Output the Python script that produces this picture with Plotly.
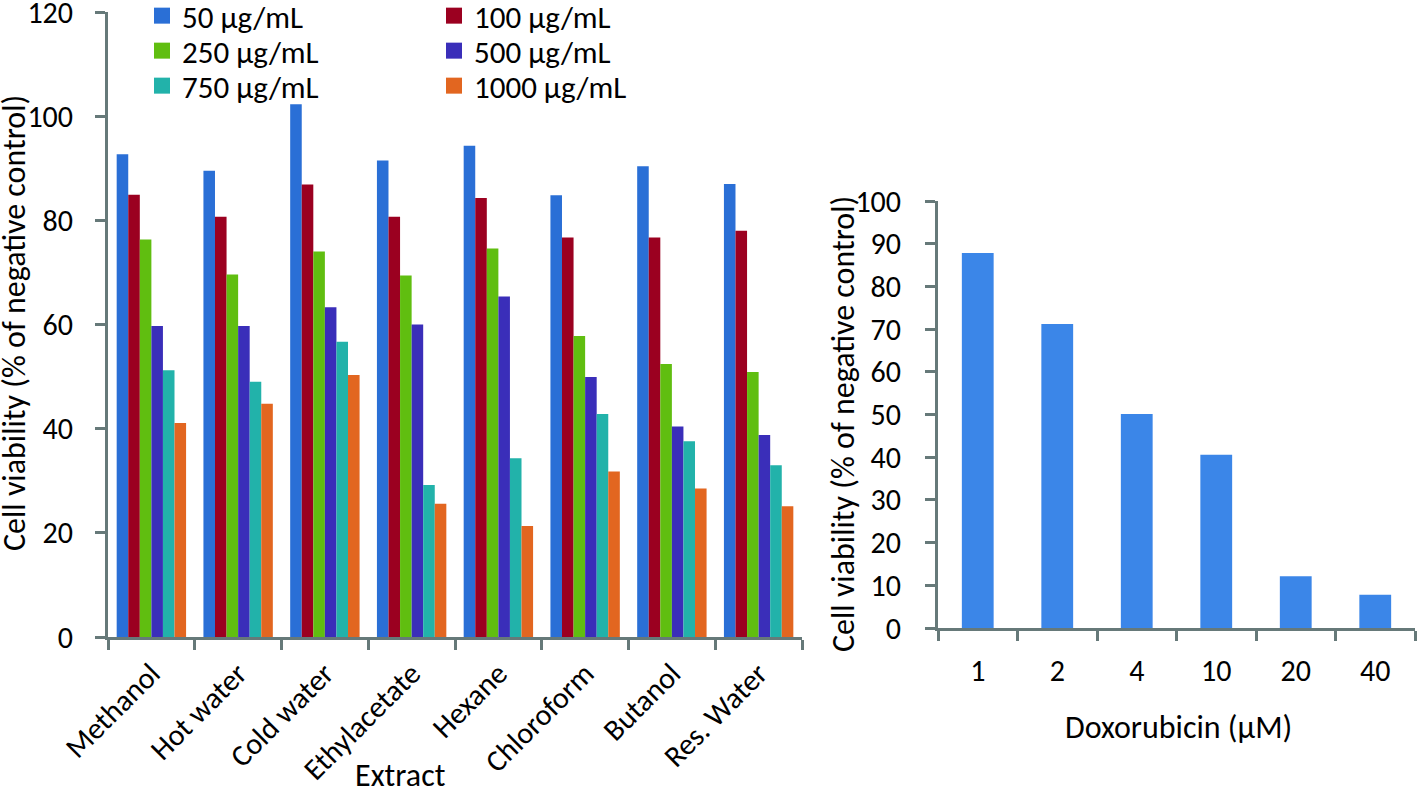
import plotly.graph_objects as go

W, H = 1419, 792

extracts = ["Methanol", "Hot water", "Cold water", "Ethylacetate", "Hexane", "Chloroform", "Butanol", "Res. Water"]
conc_labels = ["50 µg/mL", "100 µg/mL", "250 µg/mL", "500 µg/mL", "750 µg/mL", "1000 µg/mL"]
v50 = [92.7, 89.5, 102.3, 91.5, 94.3, 84.8, 90.4, 87.0]
v100 = [84.9, 80.7, 86.9, 80.7, 84.3, 76.7, 76.7, 78.0]
v250 = [76.3, 69.6, 74.0, 69.4, 74.6, 57.8, 52.4, 50.9]
v500 = [59.7, 59.7, 63.3, 60.0, 65.4, 49.9, 40.4, 38.8]
v750 = [51.2, 49.0, 56.7, 29.2, 34.3, 42.8, 37.6, 33.0]
v1000 = [41.1, 44.8, 50.3, 25.6, 21.3, 31.8, 28.5, 25.1]
series = [v50, v100, v250, v500, v750, v1000]
colors = ["#2a6fd6", "#9b0020", "#60be10", "#3a2eb9", "#22b2aa", "#e26620"]

dox_labels = ["1", "2", "4", "10", "20", "40"]
dox_values = [87.8, 71.2, 50.1, 40.6, 12.1, 7.8]

FONT = "Carlito, Lato, sans-serif"
FS = 31
FS_TITLE = 32
FS_TICK = 30
AXC = "#667979"


def fx(p):
    return p / W


def fy(p):
    return 1 - p / H


fig = go.Figure()
legend_ids = ["legend", "legend2", "legend3", "legend4", "legend5", "legend6"]
for name, vals, col, lg in zip(conc_labels, series, colors, legend_ids):
    fig.add_trace(go.Bar(x=extracts, y=vals, name=name, marker=dict(color=col, line=dict(width=0)),
                         xaxis="x", yaxis="y", legendgroup=name, showlegend=False))
    # legend entry with a larger square swatch, linked to the bars through legendgroup
    fig.add_trace(go.Scatter(x=[None], y=[None], mode="markers", name=name, legendgroup=name,
                             marker=dict(symbol="square", size=17, color=col),
                             xaxis="x", yaxis="y", legend=lg, showlegend=True, hoverinfo="skip"))

fig.add_trace(go.Bar(x=dox_labels, y=dox_values, width=0.4, marker=dict(color="#3b86e8", line=dict(width=0)),
                     xaxis="x2", yaxis="y2", showlegend=False))

axis_common = dict(showline=True, linecolor=AXC, linewidth=3, ticks="outside", tickcolor=AXC,
                   tickwidth=3, ticklen=10, showgrid=False, zeroline=False, ticklabeloverflow="allow",
                   tickfont=dict(family=FONT, size=FS_TICK, color="black"), automargin=False)
title_font = dict(family=FONT, size=FS_TITLE, color="black")

# legend placement: two columns, three rows (text start x, row centre y in page px)
leg_pos = [(183, 16), (475, 16), (183, 51), (475, 51), (183, 86), (475, 86)]
legends = {}
for lg, (tx, cy) in zip(legend_ids, leg_pos):
    legends[lg] = dict(x=fx(tx - 41), y=fy(cy), xanchor="left", yanchor="middle",
                       bgcolor="rgba(0,0,0,0)", font=dict(family=FONT, size=FS, color="black"))

annots = [
    dict(text="Extract", x=fx(400), y=fy(775)),
    dict(text="Doxorubicin (µM)", x=fx(1178), y=fy(727)),
    dict(text="Cell viability (% of negative control)", x=fx(14), y=fy(323), textangle=-90),
    dict(text="Cell viability (% of negative control)", x=fx(843), y=fy(424), textangle=-90),
]
for a in annots:
    a.update(xref="paper", yref="paper", xanchor="center", yanchor="middle", showarrow=False, font=title_font)

fig.update_layout(
    width=W, height=H,
    margin=dict(l=0, r=0, t=0, b=0, autoexpand=False),
    paper_bgcolor="white", plot_bgcolor="white",
    barmode="group", bargap=0.2, bargroupgap=0,
    font=dict(family=FONT, size=FS, color="black"),
    xaxis=dict(domain=[fx(108), fx(802)], anchor="y", tickangle=-45, tickson="boundaries",
               ticklabelstandoff=4, **axis_common),
    yaxis=dict(domain=[fy(637), fy(12)], anchor="x", range=[0, 120], dtick=20,
               ticklabelstandoff=16, **axis_common),
    xaxis2=dict(domain=[fx(938), fx(1415)], anchor="y2", tickson="boundaries",
                ticklabelstandoff=14, **axis_common),
    yaxis2=dict(domain=[fy(628), fy(201)], anchor="x2", range=[0, 100], dtick=10,
                ticklabelstandoff=18, **axis_common),
    annotations=annots,
    **legends,
)

# remove the browser's default body margin so the figure sits at the page origin
fig.write_html("out.html", config={"displayModeBar": False},
               post_script="document.body.style.margin='0px';document.body.style.overflow='hidden';")
